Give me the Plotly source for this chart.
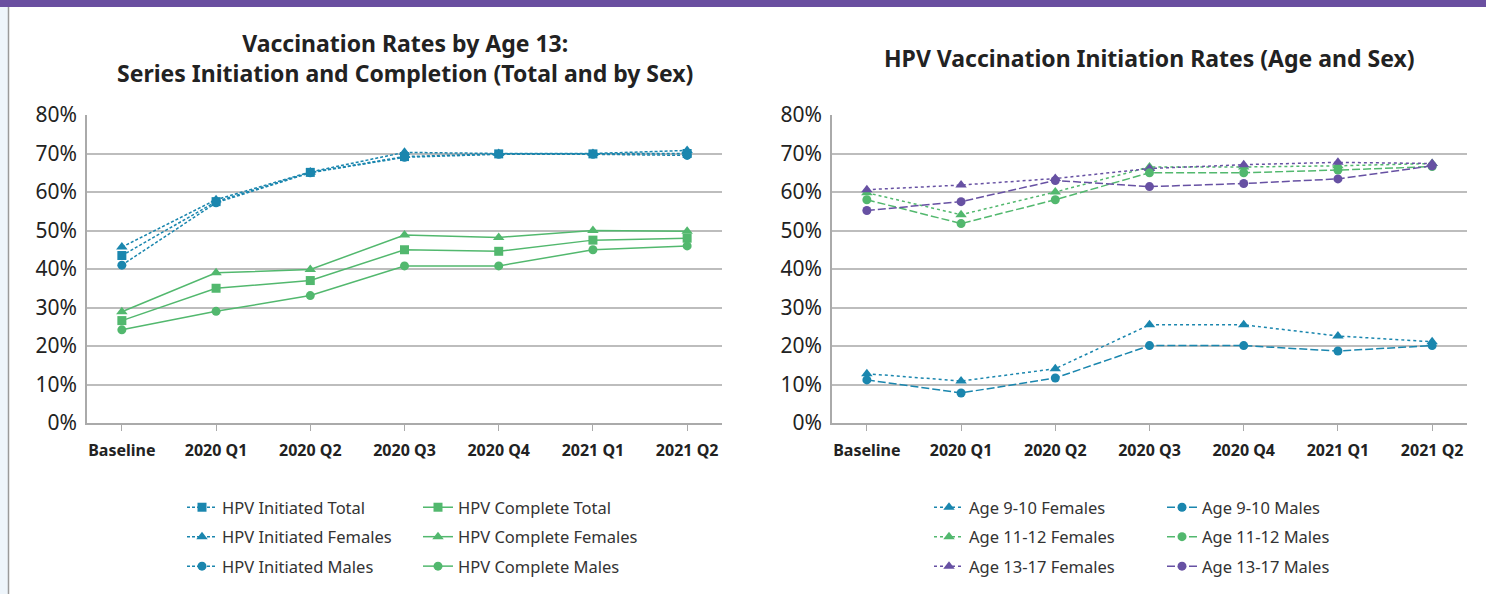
import plotly.graph_objects as go

categories = ["Baseline", "2020 Q1", "2020 Q2", "2020 Q3", "2020 Q4", "2021 Q1", "2021 Q2"]
y_ticks = [0, 10, 20, 30, 40, 50, 60, 70, 80]
y_tick_labels = ["0%", "10%", "20%", "30%", "40%", "50%", "60%", "70%", "80%"]

# Left chart: by age 13, initiation and completion
init_total = [43.5, 57.5, 65.1, 69.2, 69.9, 69.9, 70.0]
init_females = [45.7, 58.0, 65.2, 70.3, 70.0, 70.0, 70.8]
init_males = [41.0, 57.2, 65.0, 69.0, 69.8, 69.8, 69.5]
comp_total = [26.6, 35.0, 37.0, 45.0, 44.6, 47.5, 48.0]
comp_females = [28.9, 39.0, 39.9, 48.8, 48.2, 50.0, 49.8]
comp_males = [24.2, 29.0, 33.1, 40.8, 40.8, 45.0, 46.0]

# Right chart: initiation by age and sex
f_9_10 = [12.8, 10.9, 14.1, 25.5, 25.5, 22.6, 21.1]
m_9_10 = [11.2, 7.8, 11.7, 20.1, 20.1, 18.7, 20.1]
f_11_12 = [59.8, 54.1, 60.0, 66.5, 66.5, 66.8, 67.4]
m_11_12 = [58.0, 51.8, 58.0, 65.0, 65.0, 65.7, 66.6]
f_13_17 = [60.6, 61.8, 63.5, 66.1, 67.1, 67.7, 67.4]
m_13_17 = [55.2, 57.5, 63.0, 61.4, 62.2, 63.4, 66.8]

TEAL = "#1a86ae"
GREEN = "#52b86e"
PURPLE = "#6751a3"
W, H = 1486, 594

fig = go.Figure()

def add(name, y, color, dash, symbol, xa, ya, legend, size=9):
    fig.add_trace(go.Scatter(
        x=categories, y=y, name=name, mode="lines+markers",
        line=dict(color=color, width=1.5, dash=dash),
        marker=dict(color=color, symbol=symbol, size=size),
        xaxis=xa, yaxis=ya, legend=legend, legendgroup=name,
    ))

add("HPV Initiated Total", init_total, TEAL, "3px,2px", "square", "x", "y", "legend")
add("HPV Initiated Females", init_females, TEAL, "3px,2px", "triangle-up", "x", "y", "legend", 10)
add("HPV Initiated Males", init_males, TEAL, "3px,2px", "circle", "x", "y", "legend")
add("HPV Complete Total", comp_total, GREEN, "solid", "square", "x", "y", "legend2")
add("HPV Complete Females", comp_females, GREEN, "solid", "triangle-up", "x", "y", "legend2", 10)
add("HPV Complete Males", comp_males, GREEN, "solid", "circle", "x", "y", "legend2")

add("Age 9-10 Females", f_9_10, TEAL, "3px,3px", "triangle-up", "x2", "y2", "legend3", 10)
add("Age 11-12 Females", f_11_12, GREEN, "3px,3px", "triangle-up", "x2", "y2", "legend3", 10)
add("Age 13-17 Females", f_13_17, PURPLE, "3px,3px", "triangle-up", "x2", "y2", "legend3", 10)
add("Age 9-10 Males", m_9_10, TEAL, "8px,3px", "circle", "x2", "y2", "legend4")
add("Age 11-12 Males", m_11_12, GREEN, "8px,3px", "circle", "x2", "y2", "legend4")
add("Age 13-17 Males", m_13_17, PURPLE, "8px,3px", "circle", "x2", "y2", "legend4")

ydom = [(H - 423) / H, (H - 115) / H]
xdom1 = [87 / W, 722 / W]
xdom2 = [832 / W, 1467 / W]

xcommon = dict(type="category", range=[-0.37, 6.37], showline=True, linecolor="#aaaaaa",
               linewidth=1.5, ticks="outside", ticklen=6, tickcolor="#aaaaaa", tickwidth=1,
               showgrid=False, ticklabelstandoff=6, automargin=False,
               tickfont=dict(family="Noto Sans", size=16, color="#222222", weight="bold"))
ycommon = dict(range=[0, 80], tickvals=y_ticks, ticktext=y_tick_labels, showline=True,
               linecolor="#aaaaaa", linewidth=1.5, gridcolor="#bdbdbd", gridwidth=1.5,
               zeroline=False, ticks="", ticklabelstandoff=4, automargin=False,
               tickfont=dict(family="Noto Sans", size=21, color="#222222"))

leg_common = dict(font=dict(family="Noto Sans", size=16.5, color="#333333"), tracegroupgap=5,
                  bgcolor="rgba(0,0,0,0)", xanchor="left", yanchor="top", itemwidth=30)

LEG_TOP = 1 - 490 / H

fig.update_layout(
    width=W, height=H, autosize=False,
    margin=dict(l=0, r=0, t=0, b=0),
    paper_bgcolor="white", plot_bgcolor="white",
    xaxis=dict(domain=xdom1, anchor="y", **xcommon),
    yaxis=dict(domain=ydom, anchor="x", **ycommon),
    xaxis2=dict(domain=xdom2, anchor="y2", **xcommon),
    yaxis2=dict(domain=ydom, anchor="x2", **ycommon),
    legend=dict(x=182 / W, y=LEG_TOP, **leg_common),
    legend2=dict(x=418 / W, y=LEG_TOP, **leg_common),
    legend3=dict(x=929 / W, y=LEG_TOP, **leg_common),
    legend4=dict(x=1162 / W, y=LEG_TOP, **leg_common),
    shapes=[
        dict(type="rect", xref="paper", yref="paper", x0=0, x1=1, y0=1 - 7 / H, y1=1,
             fillcolor="#6a4fa0", line=dict(width=0), layer="above"),
        dict(type="rect", xref="paper", yref="paper", x0=0, x1=8 / W, y0=0, y1=1 - 7 / H,
             fillcolor="#eef5fb", line=dict(width=0)),
        dict(type="line", xref="paper", yref="paper", x0=8.5 / W, x1=8.5 / W, y0=0, y1=1 - 7 / H,
             line=dict(color="#9a9a9a", width=1.5)),
    ],
    annotations=[
        dict(text="Vaccination Rates by Age 13:<br>Series Initiation and Completion (Total and by Sex)",
             xref="paper", yref="paper", x=404.5 / W, y=1 - 58 / H, xanchor="center", yanchor="middle",
             showarrow=False, align="center",
             font=dict(family="Noto Sans", size=23, color="#222222", weight="bold")),
        dict(text="HPV Vaccination Initiation Rates (Age and Sex)",
             xref="paper", yref="paper", x=1149.5 / W, y=1 - 58 / H, xanchor="center", yanchor="middle",
             showarrow=False, font=dict(family="Noto Sans", size=23, color="#222222", weight="bold")),
    ],
)

fig.write_html("out.html", config={"displayModeBar": False},
               post_script="document.body.style.margin='0';")
